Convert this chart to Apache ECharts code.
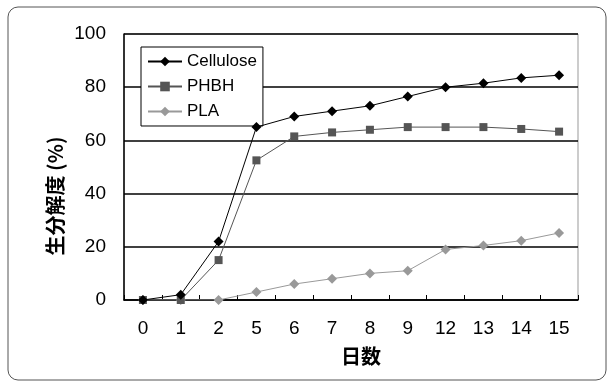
<!DOCTYPE html>
<html><head><meta charset="utf-8">
<script src="https://cdn.jsdelivr.net/npm/echarts@6/dist/echarts.min.js"></script>
<style>html,body{margin:0;padding:0;background:#fff}#c{width:614px;height:388px}</style>
</head><body><div id="c"></div>
<script>
const days = ['0','1','2','5','6','7','8','9','12','13','14','15'];
const cellulose = [0, 2, 22, 65, 69, 71, 73, 76.5, 80, 81.5, 83.5, 84.5];
const phbh = [0, 0, 15, 52.5, 61.5, 63, 64, 65, 65, 65, 64.3, 63.3];
const pla = [0, 0, 0, 3, 6, 8, 10, 11, 19, 20.5, 22.3, 25.2];
const yTicks = [0, 20, 40, 60, 80, 100];

const font = 'Arial, "Liberation Sans", "Noto Sans CJK JP", sans-serif';
const chart = echarts.init(document.getElementById('c'), null, {renderer: 'canvas'});
chart.setOption({
  animation: false,
  backgroundColor: '#fff',
  grid: {left: 124, right: 36, top: 34, bottom: 88},
  graphic: [
    {type: 'rect', shape: {x: 8, y: 7, width: 598, height: 373, r: 10},
     style: {fill: 'none', stroke: '#555', lineWidth: 1}, z: -1},
    {type: 'rect', shape: {x: 124, y: 34, width: 454, height: 266},
     style: {fill: 'none', stroke: '#999', lineWidth: 1}, z: 0},
    {type: 'text', x: 55, y: 196, rotation: Math.PI / 2, origin: [0, 0],
     style: {text: '生分解度 (%)', font: 'bold 20px "Noto Sans CJK JP", sans-serif',
             fill: '#000', align: 'center', verticalAlign: 'middle'}}
  ],
  legend: {
    left: 141, top: 47, orient: 'vertical',
    backgroundColor: '#fff', borderColor: '#000', borderWidth: 1,
    padding: [6, 6, 6, 6], itemGap: 8, itemWidth: 34, itemHeight: 12,
    textStyle: {fontFamily: font, fontSize: 17, color: '#000'},
    data: ['Cellulose', 'PHBH', 'PLA']
  },
  xAxis: {
    type: 'category', data: days, boundaryGap: true,
    name: '日数', nameLocation: 'middle', nameGap: 46,
    nameTextStyle: {fontFamily: '"Noto Sans CJK JP", sans-serif', fontSize: 20, fontWeight: 'bold', color: '#000', padding: [0, 0, 0, 20]},
    axisLine: {lineStyle: {color: '#000', width: 1.5}},
    axisTick: {show: true, inside: true, length: 5, alignWithLabel: false, lineStyle: {color: '#000'}},
    axisLabel: {fontFamily: font, fontSize: 19, color: '#000', margin: 19}
  },
  yAxis: {
    type: 'value', min: 0, max: 100, interval: 20,
    axisLine: {show: true, lineStyle: {color: '#000', width: 1.5}},
    axisTick: {show: false},
    axisLabel: {fontFamily: font, fontSize: 19, color: '#000', margin: 18,
                formatter: v => yTicks.includes(v) ? String(v) : ''},
    splitLine: {lineStyle: {color: '#000', width: 1.5}}
  },
  series: [
    {name: 'Cellulose', type: 'line', data: cellulose, symbol: 'diamond', symbolSize: 10,
     itemStyle: {color: '#000'}, lineStyle: {color: '#000', width: 1}, z: 5},
    {name: 'PHBH', type: 'line', data: phbh, symbol: 'rect', symbolSize: 8,
     itemStyle: {color: '#555'}, lineStyle: {color: '#555', width: 1}, z: 4},
    {name: 'PLA', type: 'line', data: pla, symbol: 'diamond', symbolSize: 10,
     itemStyle: {color: '#999'}, lineStyle: {color: '#999', width: 1}, z: 3}
  ]
});
</script></body></html>
